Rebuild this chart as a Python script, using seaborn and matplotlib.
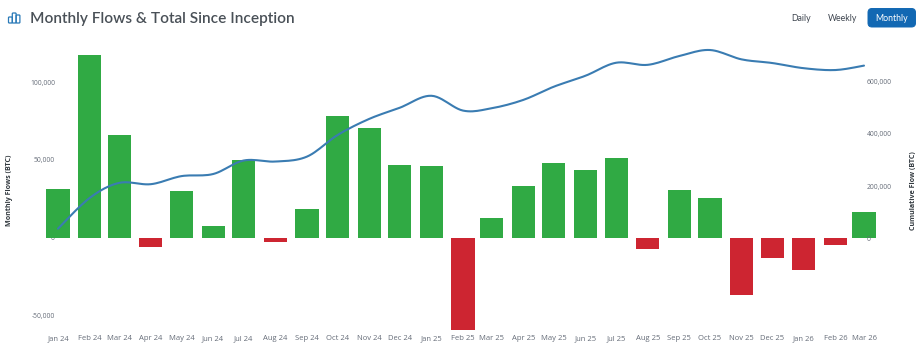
import numpy as np
import pandas as pd
import matplotlib
matplotlib.use("Agg")
import matplotlib.pyplot as plt
import matplotlib.dates as mdates
from matplotlib.patches import FancyBboxPatch
import seaborn as sns

months = ["Jan 24","Feb 24","Mar 24","Apr 24","May 24","Jun 24","Jul 24","Aug 24","Sep 24","Oct 24",
          "Nov 24","Dec 24","Jan 25","Feb 25","Mar 25","Apr 25","May 25","Jun 25","Jul 25","Aug 25",
          "Sep 25","Oct 25","Nov 25","Dec 25","Jan 26","Feb 26","Mar 26"]
monthly_flows = [31200,117400,66000,-6000,30000,7700,50000,-2800,18500,78000,70500,46500,46000,-59500,
                 12500,33000,48000,43500,51000,-7500,30500,25500,-37000,-13000,-21000,-4800,16500]
cumulative_flow = [36000,154000,212000,207000,238000,246000,298000,294000,313000,396000,458000,501000,
                   547000,490000,499000,531000,582000,624000,674000,666000,700000,723000,687000,673000,
                   653000,646000,663000]
left_ticks = [-50000,0,50000,100000]
right_ticks = [0,200000,400000,600000]

W, H = 920, 352
sns.set_theme(style="white")
plt.rcParams['font.family'] = ['Open Sans', 'DejaVu Sans']
fig = plt.figure(figsize=(W/100, H/100), dpi=100)

def fx(p): return p/W
def fy(p): return 1-p/H

ax_l, ax_r, ax_t, ax_b = 40, 880, 40, 332
ax = fig.add_axes([fx(ax_l), fy(ax_b), (ax_r-ax_l)/W, (ax_b-ax_t)/H])

dates = pd.to_datetime(["20" + m[4:] + "-" + m[:3] + "-01" for m in months], format="%Y-%b-%d")
xnum = mdates.date2num(dates)
df = pd.DataFrame({"x": xnum, "flow": monthly_flows, "cum": cumulative_flow})
df["sign"] = np.where(df["flow"] >= 0, "in", "out")

sns.barplot(data=df, x="x", y="flow", hue="sign", palette={"in": "#30aa44", "out": "#cd2531"},
            native_scale=True, dodge=False, width=0.81, legend=False, ax=ax, saturation=1,
            edgecolor="none")

px_per_day = 806/790
x0 = xnum[0] - (58-ax_l)/px_per_day
x1 = x0 + (ax_r-ax_l)/px_per_day
ax.set_xlim(x0, x1)
ax.set_ylim(-60800, 127100)
ax.set_xticks(xnum)
ax.set_xticklabels(months)
ax.set_yticks(left_ticks)
ax.set_yticklabels([f"{v:,}" for v in left_ticks])
ax.set_xlabel(""); ax.set_ylabel("")
ax.tick_params(axis="x", length=0, pad=5.6, labelsize=5.5, labelcolor="#656c78")
ax.tick_params(axis="y", length=0, pad=0, labelsize=4.9, labelcolor="#656c78")
for t in ax.get_xticklabels():
    t.set_va("baseline")
for t in ax.get_yticklabels():
    t.set_ha("right")
    t.set_x((55-ax_l)/(ax_r-ax_l))
sns.despine(ax=ax, left=True, bottom=True)

ax2 = ax.twinx()
# display smoothing only: Catmull-Rom curve through the monthly values
xs, ys = df["x"].to_numpy(float), df["cum"].to_numpy(float)
px = np.r_[xs[0], xs, xs[-1]]; py = np.r_[ys[0], ys, ys[-1]]
cx, cy = [], []
for i in range(1, len(px)-2):
    for t in np.linspace(0, 1, 12, endpoint=False):
        b = [(-t**3+2*t**2-t)/2, (3*t**3-5*t**2+2)/2, (-3*t**3+4*t**2+t)/2, (t**3-t**2)/2]
        cx.append(b[0]*px[i-1]+b[1]*px[i]+b[2]*px[i+1]+b[3]*px[i+2])
        cy.append(b[0]*py[i-1]+b[1]*py[i]+b[2]*py[i+1]+b[3]*py[i+2])
cx.append(xs[-1]); cy.append(ys[-1])
sns.lineplot(x=cx, y=cy, ax=ax2, color="#3a7cb2", linewidth=1.5, sort=False, estimator=None)
ax2.set_xlim(x0, x1)
ax2.set_ylim(-361500, 761500)
ax2.set_yticks(right_ticks)
ax2.set_yticklabels([f"{v:,}" for v in right_ticks])
ax2.set_ylabel("")
ax2.tick_params(axis="y", length=0, pad=-9.5, labelsize=4.9, labelcolor="#656c78")
sns.despine(ax=ax2, left=True, bottom=True, right=True)
ax2.grid(False); ax.grid(False)

fig.text(fx(10), fy(190.5), "Monthly Flows (BTC)", rotation=90, ha="center", va="center",
         fontsize=5.15, fontweight="bold", color="#333a40")
fig.text(fx(914), fy(190.5), "Cumulative Flow (BTC)", rotation=90, ha="center", va="center",
         fontsize=5.1, fontweight="bold", color="#333a40")

fig.text(fx(30), fy(19), "Monthly Flows & Total Since Inception", ha="left", va="center",
         fontsize=11.1, fontweight="semibold", color="#495057", family=["Lato", "DejaVu Sans"])
for label, xp, col in [("Daily", 801.5, "#3f4650"), ("Weekly", 843, "#3f4650"), ("Monthly", 892, "white")]:
    fig.text(fx(xp), fy(18.5), label, ha="center", va="center", fontsize=6.35, color=col,
             zorder=5, family=["Lato", "DejaVu Sans"])

overlay = fig.add_axes([0, 0, 1, 1], facecolor="none")
overlay.set_xlim(0, W); overlay.set_ylim(H, 0); overlay.axis("off")
overlay.add_patch(FancyBboxPatch((868, 8.5), 47.5, 18.5, boxstyle="round,pad=0,rounding_size=4",
                                 fc="#1268b3", ec="#1268b3", lw=0.7))
for (x, y, w, h) in [(8.5, 17, 3.8, 6), (12.3, 13, 3.8, 10), (16.1, 15, 3.8, 8)]:
    overlay.add_patch(FancyBboxPatch((x, y), w, h, boxstyle="round,pad=0,rounding_size=0.8",
                                     fc="none", ec="#2a7ab8", lw=0.9))

fig.savefig("out.png", dpi=100)
